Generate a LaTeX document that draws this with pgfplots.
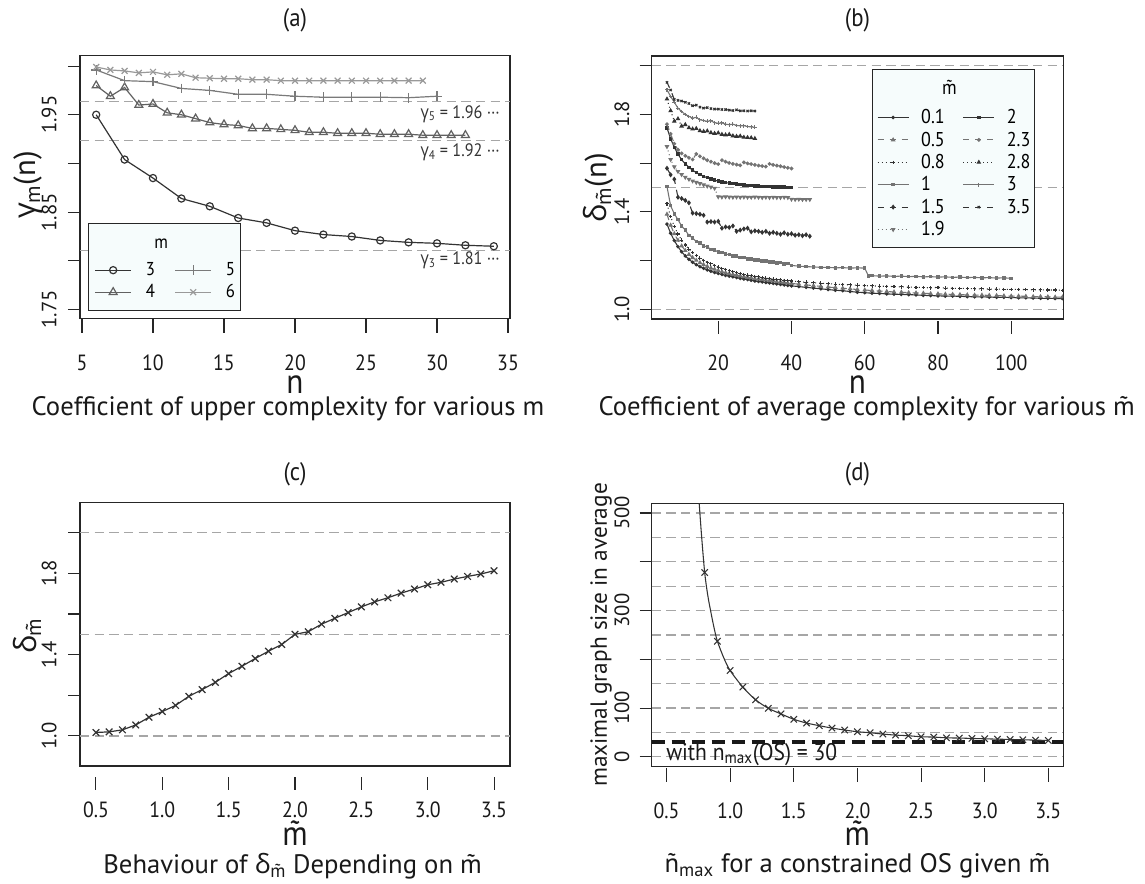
\documentclass[border=0pt]{standalone}
\usepackage{pgfplots}
\pgfplotsset{compat=1.18}
\usepackage{fontspec}
\setmainfont{PT Sans}[FakeStretch=0.9]
\newfontfamily\grk{Open Sans}[FakeStretch=0.9]
\newfontfamily\rotf{PT Sans}
\newfontfamily\rotgrk{Open Sans}
\definecolor{legfill}{RGB}{246,252,252}
\colorlet{dk}{black!80}
\colorlet{gr}{black!55}
\newcommand\mt{{\ooalign{m\cr\hidewidth\char"02DC\hidewidth\cr}}}
\newcommand\ftick{\fontsize{16.5}{16.5}\selectfont}
\newcommand\frot{\rotf\fontsize{15.5}{15.5}\selectfont}
\newcommand\ftitle{\fontsize{19}{19}\selectfont}
\newcommand\fxlab{\fontsize{26}{26}\selectfont}
\newcommand\fcap{\rotf\fontsize{20}{20}\selectfont}
\newcommand\fylab{\rotf\fontsize{23}{23}\selectfont}
\newcommand\fylabd{\rotf\fontsize{17.5}{17.5}\selectfont}
\newcommand\flega{\fontsize{14}{14}\selectfont}
\newcommand\flegb{\fontsize{15}{15}\selectfont}
\newcommand\fann{\fontsize{13.5}{13.5}\selectfont}

\pgfplotsset{
  /pgf/number format/assume math mode=true,
  panel/.style={scale only axis, anchor=south west,
    axis line style={line width=0.8pt, black!85},
    xtick=\empty, ytick pos=left, tick align=outside, major tick length=9pt,
    ytick style={line width=0.8pt, black!85},
    yticklabel style={rotate=90, anchor=south, inner sep=0pt, font=\frot, black!90},
    yticklabel shift=8.25pt, clip marker paths=true},
  tickrow/.style={scale only axis, anchor=south west, height=1pt, ymin=0, ymax=1,
    axis x line*=bottom, axis y line=none, x axis line style={draw=none},
    tick align=outside, major tick length=10pt,
    xtick style={line width=0.8pt, black!85},
    xticklabel style={anchor=north, inner sep=0pt, font=\ftick, black!90}},
  gline/.style={black!35, line width=0.9pt, dash pattern=on 7pt off 4pt, forget plot},
  % panel (a)
  ma3/.style={color=black!80, line width=0.9pt, mark=o, mark size=2.7pt, mark options={solid}},
  ma4/.style={color=black!62, line width=0.9pt, mark=triangle, mark size=3.4pt, mark options={solid}},
  ma5/.style={color=black!52, line width=0.9pt, mark=+, mark size=3.6pt, mark options={solid}},
  ma6/.style={color=black!40, line width=0.9pt, mark=x, mark size=3.1pt, mark options={solid}},
  % panel (b)
  bdash/.style={dash pattern=on 4.5pt off 4.5pt},
  bdot/.style={dash pattern=on 0.75pt off 2.25pt},
  s01/.style={dk, line width=0.8pt, solid, mark=*, mark size=0.9pt, mark options={solid}},
  s05/.style={gr, line width=0.8pt, bdash, mark=triangle*, mark size=1.3pt, mark options={solid}},
  s08/.style={dk, line width=0.8pt, bdot, mark=+, mark size=1.3pt, mark options={solid}},
  s1/.style={gr, line width=0.8pt, solid, mark=square*, mark size=0.9pt, mark options={solid}},
  s15/.style={dk, line width=0.8pt, bdash, mark=diamond*, mark size=1.3pt, mark options={solid}},
  s19/.style={gr, line width=0.8pt, bdot, mark=triangle*, mark size=1.3pt, mark options={solid, rotate=180}},
  s2/.style={dk, line width=0.8pt, solid, mark=square*, mark size=0.9pt, mark options={solid}},
  s23/.style={gr, line width=0.8pt, bdash, mark=*, mark size=1pt, mark options={solid}},
  s28/.style={dk, line width=0.8pt, bdot, mark=triangle*, mark size=1.3pt, mark options={solid}},
  s3/.style={gr, line width=0.8pt, solid, mark=+, mark size=1.4pt, mark options={solid}},
  s35/.style={dk, line width=0.8pt, bdash, mark=x, mark size=1.2pt, mark options={solid}},
}

\begin{document}
\begin{tikzpicture}
\useasboundingbox (0,0) rectangle (858.75pt,662.25pt);

% ---------------- (a)
\begin{axis}[panel, at={(60pt,423.5pt)}, width=322.5pt, height=197.25pt,
  xmin=4.86, xmax=35.14, ymin=1.741, ymax=2.011,
  ytick={1.75,1.80,1.85,1.90,1.95,2.00}, yticklabels={1.75,,1.85,,1.95,},
  legend image code/.code={\draw[mark repeat=2,mark phase=2,#1] plot coordinates {(0pt,0pt) (13.5pt,0pt) (27pt,0pt)};},
  legend columns=2,
  legend style={at={(0.0193,0.029)}, anchor=south west, draw=black!85, line width=0.8pt,
    fill=legfill, font=\flega, inner xsep=4.3pt, inner ysep=5.25pt, row sep=0pt,
    column sep=10.5pt, nodes={inner sep=0pt, minimum height=16.5pt}, cells={anchor=west},
    /tikz/every even column/.append style={column sep=5pt}}]
\addplot[gline] coordinates {(4.86,1.8105) (35.14,1.8105)};
\addplot[gline] coordinates {(4.86,1.9236) (35.14,1.9236)};
\addplot[gline] coordinates {(4.86,1.9635) (35.14,1.9635)};
\addplot[ma3, forget plot] coordinates {(6,1.950)(8,1.904)(10,1.885)(12,1.864)(14,1.856)(16,1.844)(18,1.839)(20,1.831)(22,1.827)(24,1.825)(26,1.821)(28,1.819)(30,1.818)(32,1.816)(34,1.815)};
\addplot[ma4, forget plot] coordinates {(6,1.980)(7,1.969)(8,1.978)(9,1.960)(10,1.961)(11,1.952)(12,1.950)(13,1.946)(14,1.942)(15,1.940)(16,1.939)(17,1.936)(18,1.936)(19,1.935)(20,1.934)(21,1.932)(22,1.932)(23,1.931)(24,1.931)(25,1.931)(26,1.930)(27,1.930)(28,1.930)(29,1.929)(30,1.929)(31,1.929)(32,1.929)};
\addplot[ma5, forget plot] coordinates {(6,1.996)(8,1.985)(10,1.984)(12,1.977)(14,1.975)(16,1.971)(18,1.971)(20,1.969)(22,1.968)(24,1.968)(26,1.968)(28,1.9675)(30,1.969)};
\addplot[ma6, forget plot] coordinates {(6,1.999)(7,1.996)(8,1.995)(9,1.993)(10,1.994)(11,1.991)(12,1.992)(13,1.988)(14,1.9875)(15,1.987)(16,1.987)(17,1.986)(18,1.986)(19,1.985)(20,1.985)(21,1.985)(22,1.985)(23,1.985)(24,1.985)(25,1.985)(26,1.985)(27,1.985)(28,1.985)(29,1.985)};
\node[anchor=east, font=\fann, black!80] at (axis cs:34.75,1.951) {{\grk γ}\textsubscript{5} = 1.96 ···};
\node[anchor=east, font=\fann, black!80] at (axis cs:34.75,1.911) {{\grk γ}\textsubscript{4} = 1.92 ···};
\node[anchor=east, font=\fann, black!80] at (axis cs:34.75,1.801) {{\grk γ}\textsubscript{3} = 1.81 ···};
\addlegendimage{empty legend}\addlegendentry[minimum height=21.75pt, xshift=6.4pt]{m}
\addlegendimage{empty legend}\addlegendentry{}
\addlegendimage{ma3}\addlegendentry{3}
\addlegendimage{ma5}\addlegendentry{5}
\addlegendimage{ma4}\addlegendentry{4}
\addlegendimage{ma6}\addlegendentry{6}
\end{axis}
\begin{axis}[tickrow, at={(60pt,422.75pt)}, width=322.5pt, xmin=4.86, xmax=35.14,
  xtick={5,10,15,20,25,30,35}, xticklabels={5,10,15,20,25,30,35}, xticklabel shift=16.3pt]
\end{axis}

% ---------------- (b)
\begin{axis}[panel, at={(488.8pt,423pt)}, width=308.5pt, height=197.25pt,
  xmin=1.84, xmax=114.16, ymin=0.96, ymax=2.04,
  ytick={1.0,1.2,1.4,1.6,1.8,2.0}, yticklabels={1.0,,1.4,,1.8,}, yticklabel shift=7.5pt,
  legend image code/.code={\draw[mark repeat=2,mark phase=2,#1] plot coordinates {(0pt,0pt) (11.6pt,0pt) (23.25pt,0pt)};},
  legend columns=2,
  legend style={at={(0.536,0.269)}, anchor=south west, draw=black!85, line width=0.8pt,
    fill=legfill, font=\flegb, inner xsep=3.3pt, inner ysep=5.25pt, row sep=0pt,
    column sep=9pt, nodes={inner sep=0pt, minimum height=16.8pt}, cells={anchor=west},
    /tikz/every even column/.append style={column sep=4.5pt}}]
\addplot[gline] coordinates {(1.84,1.0) (114.16,1.0)};
\addplot[gline] coordinates {(1.84,1.5) (114.16,1.5)};
\addplot[gline] coordinates {(1.84,2.0) (114.16,2.0)};
% m~ = 0.1
\addplot[s01, forget plot] coordinates {(6,1.350)(7,1.312)(8,1.282)(9,1.257)(10,1.236)(11,1.219)(12,1.205)(13,1.193)(14,1.183)(15,1.175)(16,1.168)(17,1.162)(18,1.156)(19,1.151)(20,1.147)(21,1.143)(22,1.139)(23,1.136)(24,1.133)(25,1.130)(26,1.127)(27,1.124)(28,1.122)(29,1.119)(30,1.116)(31,1.114)(32,1.112)(33,1.110)(34,1.108)(35,1.106)(36,1.104)(37,1.102)(38,1.100)(39,1.098)(40,1.096)(42,1.093)(44,1.090)(46,1.087)(48,1.084)(50,1.081)(52,1.078)(54,1.076)(56,1.073)(58,1.070)(60,1.068)(62,1.066)(64,1.065)(66,1.063)(68,1.062)(70,1.061)(72,1.060)(74,1.059)(76,1.057)(78,1.056)(80,1.055)(82,1.054)(84,1.054)(86,1.053)(88,1.052)(90,1.051)(92,1.051)(94,1.050)(96,1.049)(98,1.049)(100,1.048)(102,1.047)(104,1.047)(106,1.046)(108,1.045)(110,1.045)(112,1.044)(114,1.044)};
% m~ = 0.5
\addplot[s05, forget plot] coordinates {(6,1.390)(7,1.345)(8,1.310)(9,1.283)(10,1.260)(11,1.241)(12,1.225)(13,1.212)(14,1.201)(15,1.191)(16,1.183)(17,1.176)(18,1.169)(19,1.164)(20,1.159)(21,1.154)(22,1.150)(23,1.146)(24,1.143)(25,1.140)(26,1.137)(27,1.134)(28,1.131)(29,1.129)(30,1.126)(31,1.124)(32,1.122)(33,1.120)(34,1.118)(35,1.116)(36,1.114)(37,1.112)(38,1.110)(39,1.108)(40,1.106)(42,1.103)(44,1.100)(46,1.097)(48,1.094)(50,1.091)(52,1.089)(54,1.086)(56,1.084)(58,1.081)(60,1.079)(62,1.077)(64,1.075)(66,1.073)(68,1.071)(70,1.070)(72,1.068)(74,1.067)(76,1.066)(78,1.064)(80,1.063)(82,1.062)(84,1.061)(86,1.060)(88,1.059)(90,1.058)(92,1.058)(94,1.057)(96,1.056)(98,1.055)(100,1.054)(102,1.054)(104,1.053)(106,1.052)(108,1.052)(110,1.051)(112,1.050)(114,1.050)};
% m~ = 0.8
\addplot[s08, forget plot] coordinates {(6,1.433)(7,1.380)(8,1.340)(9,1.309)(10,1.284)(11,1.264)(12,1.247)(13,1.233)(14,1.221)(15,1.210)(16,1.201)(17,1.193)(18,1.186)(19,1.179)(20,1.173)(21,1.168)(22,1.163)(23,1.158)(24,1.154)(25,1.150)(26,1.147)(27,1.143)(28,1.140)(29,1.138)(30,1.135)(31,1.133)(32,1.130)(33,1.128)(34,1.126)(35,1.124)(36,1.122)(37,1.121)(38,1.119)(39,1.117)(40,1.116)(42,1.113)(44,1.111)(46,1.109)(48,1.107)(50,1.105)(52,1.103)(54,1.102)(56,1.100)(58,1.099)(60,1.097)(62,1.096)(64,1.095)(66,1.094)(68,1.093)(70,1.092)(72,1.091)(74,1.090)(76,1.089)(78,1.088)(80,1.090)(82,1.087)(84,1.086)(86,1.086)(88,1.085)(90,1.084)(92,1.084)(94,1.083)(96,1.083)(98,1.082)(100,1.082)(102,1.081)(104,1.081)(106,1.080)(108,1.080)(110,1.079)(112,1.079)(114,1.078)};
% m~ = 1
\addplot[s1, forget plot] coordinates {(6,1.504)(7,1.425)(8,1.392)(9,1.368)(10,1.342)(11,1.325)(12,1.303)(13,1.293)(14,1.278)(15,1.272)(16,1.260)(17,1.256)(18,1.246)(19,1.243)(20,1.235)(21,1.233)(22,1.226)(23,1.225)(24,1.219)(25,1.218)(26,1.212)(27,1.212)(28,1.207)(29,1.207)(30,1.202)(31,1.203)(32,1.198)(33,1.199)(34,1.194)(35,1.195)(36,1.190)(37,1.192)(38,1.186)(39,1.188)(40,1.180)(42,1.177)(44,1.175)(46,1.174)(48,1.172)(50,1.172)(52,1.170)(54,1.171)(56,1.169)(58,1.170)(60,1.169)(61,1.137)(62,1.138)(64,1.136)(66,1.137)(68,1.135)(70,1.136)(72,1.134)(74,1.135)(76,1.133)(78,1.134)(80,1.132)(82,1.133)(84,1.131)(86,1.132)(88,1.130)(90,1.131)(92,1.129)(94,1.130)(96,1.128)(98,1.129)(100,1.127)};
% m~ = 1.5
\addplot[s15, forget plot] coordinates {(6,1.579)(7,1.552)(8,1.534)(9,1.460)(10,1.455)(11,1.447)(12,1.437)(13,1.395)(14,1.393)(15,1.390)(16,1.386)(17,1.358)(18,1.360)(19,1.358)(20,1.361)(21,1.333)(22,1.338)(23,1.336)(24,1.342)(25,1.320)(26,1.325)(27,1.330)(28,1.333)(29,1.318)(30,1.322)(31,1.320)(32,1.316)(33,1.320)(34,1.312)(35,1.316)(36,1.312)(37,1.308)(38,1.314)(39,1.308)(40,1.310)(41,1.304)(42,1.306)(43,1.302)(44,1.306)(45,1.300)};
% m~ = 1.9
\addplot[s19, forget plot] coordinates {(6,1.668)(7,1.615)(8,1.585)(9,1.566)(10,1.553)(11,1.542)(12,1.534)(13,1.527)(14,1.521)(15,1.516)(16,1.511)(17,1.506)(18,1.502)(19,1.497)(20,1.462)(21,1.461)(22,1.462)(23,1.461)(24,1.460)(25,1.461)(26,1.460)(27,1.461)(28,1.460)(29,1.460)(30,1.461)(31,1.460)(32,1.459)(33,1.460)(34,1.459)(35,1.460)(36,1.459)(37,1.459)(38,1.460)(39,1.459)(40,1.452)(41,1.451)(42,1.452)(43,1.451)(44,1.451)(45,1.451)};
% m~ = 2
\addplot[s2, forget plot] coordinates {(6,1.745)(7,1.700)(8,1.665)(9,1.637)(10,1.614)(11,1.597)(12,1.583)(13,1.571)(14,1.561)(15,1.553)(16,1.546)(17,1.540)(18,1.535)(19,1.530)(20,1.526)(21,1.523)(22,1.520)(23,1.518)(24,1.516)(25,1.514)(26,1.512)(27,1.511)(28,1.509)(29,1.508)(30,1.507)(31,1.506)(32,1.505)(33,1.505)(34,1.504)(35,1.503)(36,1.503)(37,1.502)(38,1.502)(39,1.501)(40,1.501)};
% m~ = 2.3
\addplot[s23, forget plot] coordinates {(6,1.760)(7,1.720)(8,1.680)(9,1.655)(10,1.640)(11,1.630)(12,1.622)(13,1.615)(14,1.638)(15,1.628)(16,1.620)(17,1.612)(18,1.606)(19,1.600)(20,1.596)(21,1.612)(22,1.606)(23,1.601)(24,1.597)(25,1.594)(26,1.591)(27,1.603)(28,1.599)(29,1.596)(30,1.593)(31,1.590)(32,1.588)(33,1.586)(34,1.597)(35,1.593)(36,1.590)(37,1.587)(38,1.584)(39,1.581)(40,1.578)};
% m~ = 2.8
\addplot[s28, forget plot] coordinates {(6,1.863)(7,1.815)(8,1.772)(9,1.782)(10,1.752)(11,1.758)(12,1.745)(13,1.740)(14,1.742)(15,1.733)(16,1.730)(17,1.732)(18,1.725)(19,1.722)(20,1.724)(21,1.718)(22,1.716)(23,1.718)(24,1.712)(25,1.710)(26,1.711)(27,1.706)(28,1.705)(29,1.704)(30,1.701)};
% m~ = 3
\addplot[s3, forget plot] coordinates {(6,1.901)(7,1.874)(8,1.850)(9,1.826)(10,1.812)(11,1.800)(12,1.792)(13,1.785)(14,1.788)(15,1.778)(16,1.775)(17,1.772)(18,1.774)(19,1.766)(20,1.764)(21,1.765)(22,1.760)(23,1.758)(24,1.760)(25,1.755)(26,1.753)(27,1.754)(28,1.750)(29,1.749)(30,1.747)};
% m~ = 3.5
\addplot[s35, forget plot] coordinates {(6,1.932)(7,1.900)(8,1.862)(9,1.858)(10,1.855)(11,1.850)(12,1.845)(13,1.836)(14,1.838)(15,1.830)(16,1.826)(17,1.828)(18,1.824)(19,1.822)(20,1.822)(21,1.820)(22,1.820)(23,1.818)(24,1.816)(25,1.819)(26,1.815)(27,1.815)(28,1.814)(29,1.815)(30,1.814)};
\addlegendimage{empty legend}\addlegendentry[minimum height=20.6pt, xshift=15.75pt, yshift=3.75pt]{\mt}
\addlegendimage{empty legend}\addlegendentry{}
\addlegendimage{s01}\addlegendentry{0.1}
\addlegendimage{s2}\addlegendentry{2}
\addlegendimage{s05}\addlegendentry{0.5}
\addlegendimage{s23}\addlegendentry{2.3}
\addlegendimage{s08}\addlegendentry{0.8}
\addlegendimage{s28}\addlegendentry{2.8}
\addlegendimage{s1}\addlegendentry{1}
\addlegendimage{s3}\addlegendentry{3}
\addlegendimage{s15}\addlegendentry{1.5}
\addlegendimage{s35}\addlegendentry{3.5}
\addlegendimage{s19}\addlegendentry{1.9}
\end{axis}
\begin{axis}[tickrow, at={(488.8pt,421.75pt)}, width=308.5pt, xmin=1.84, xmax=114.16,
  xtick={20,40,60,80,100}, xticklabels={20,40,60,80,100}, xticklabel shift=15.75pt]
\end{axis}

% ---------------- (c)
\begin{axis}[panel, at={(60pt,87.75pt)}, width=322.5pt, height=197.5pt,
  xmin=0.38, xmax=3.62, ymin=0.852, ymax=2.148,
  ytick={1.0,1.2,1.4,1.6,1.8,2.0}, yticklabels={1.0,,1.4,,1.8,}]
\addplot[gline] coordinates {(0.38,1.0) (3.62,1.0)};
\addplot[gline] coordinates {(0.38,1.5) (3.62,1.5)};
\addplot[gline] coordinates {(0.38,2.0) (3.62,2.0)};
\addplot[dk, line width=0.9pt, mark=x, mark size=3.5pt] coordinates {(0.5,1.017)(0.6,1.020)(0.7,1.030)(0.8,1.054)(0.9,1.092)(1.0,1.120)(1.1,1.150)(1.2,1.195)(1.3,1.228)(1.4,1.264)(1.5,1.307)(1.6,1.343)(1.7,1.381)(1.8,1.417)(1.9,1.450)(2.0,1.500)(2.1,1.513)(2.2,1.550)(2.3,1.579)(2.4,1.607)(2.5,1.635)(2.6,1.660)(2.7,1.680)(2.8,1.703)(2.9,1.723)(3.0,1.744)(3.1,1.756)(3.2,1.772)(3.3,1.785)(3.4,1.797)(3.5,1.813)};
\end{axis}
\begin{axis}[tickrow, at={(60pt,79.75pt)}, width=322.5pt, xmin=0.38, xmax=3.62,
  xtick={0.5,1,1.5,2,2.5,3,3.5}, xticklabels={0.5,1.0,1.5,2.0,2.5,3.0,3.5}, xticklabel shift=9pt]
\end{axis}

% ---------------- (d)
\begin{axis}[panel, at={(488.8pt,87.3pt)}, width=308.5pt, height=197.5pt,
  xmin=0.384, xmax=3.616, ymin=-20, ymax=520,
  ytick={0,100,200,300,400,500}, yticklabels={0,100,,300,,500}, yticklabel shift=7.5pt]
\pgfplotsinvokeforeach{0,50,...,500}{\addplot[gline] coordinates {(0.384,#1) (3.616,#1)};}
\addplot[black!90, line width=3pt, dash pattern=on 9.75pt off 5.25pt] coordinates {(0.384,30) (3.616,30)};
\addplot[dk, line width=0.8pt, smooth, tension=0.5] coordinates {(0.75,545)(0.775,455)(0.8,378)(0.825,330)(0.85,295)(0.875,263)(0.9,237)(0.95,203)(1.0,177)(1.1,143)(1.2,117)(1.3,99.6)(1.4,88)(1.5,77)(1.6,69.4)(1.7,63.9)(1.8,59)(1.9,55)(2.0,51.5)(2.1,49.5)(2.2,46.7)(2.3,44.6)(2.4,43.3)(2.5,41.2)(2.6,40.5)(2.7,39)(2.8,38.5)(2.9,37.8)(3.0,37)(3.1,36.3)(3.2,35.7)(3.3,35)(3.4,34.3)(3.5,33.6)};
\addplot[dk, only marks, line width=0.8pt, mark=x, mark size=3.4pt] coordinates {(0.8,378)(0.9,237)(1.0,177)(1.1,143)(1.2,117)(1.3,99.6)(1.4,88)(1.5,77)(1.6,69.4)(1.7,63.9)(1.8,59)(1.9,55)(2.0,51.5)(2.1,49.5)(2.2,46.7)(2.3,44.6)(2.4,43.3)(2.5,41.2)(2.6,40.5)(2.7,39)(2.8,38.5)(2.9,37.8)(3.0,37)(3.1,36.3)(3.2,35.7)(3.3,35)(3.4,34.3)(3.5,33.6)};
\node[anchor=base west, font=\fontsize{18}{18}\selectfont, black!90, inner sep=0pt] at (axis cs:0.496,-6.8) {with n\textsubscript{max}(OS) = 30};
\end{axis}
\begin{axis}[tickrow, at={(488.8pt,86.05pt)}, width=308.5pt, xmin=0.384, xmax=3.616,
  xtick={0.5,1,1.5,2,2.5,3,3.5}, xticklabels={0.5,1.0,1.5,2.0,2.5,3.0,3.5}, xticklabel shift=15.75pt]
\end{axis}

% ---------------- titles and labels
\begin{scope}[every node/.style={black!90, inner sep=0pt}]
\node[font=\ftitle] at (221.25pt,647.25pt) {(a)};
\node[font=\ftitle] at (643.05pt,647.25pt) {(b)};
\node[font=\ftitle] at (221.25pt,306.75pt) {(c)};
\node[font=\ftitle] at (643.05pt,306.75pt) {(d)};
\node[font=\fxlab, anchor=base] at (221.25pt,366.75pt) {n};
\node[font=\fxlab, anchor=base] at (643.05pt,366.75pt) {n};
\node[font=\fxlab, anchor=base] at (221.25pt,28.5pt) {\mt};
\node[font=\fxlab, anchor=base] at (643.05pt,28.5pt) {\mt};
\node[font=\fcap, anchor=base] at (216pt,351pt) {Coefficient of upper complexity for various m};
\node[font=\fcap, anchor=base] at (650pt,351pt) {Coefficient of average complexity for various \mt};
\node[font=\fcap, anchor=base] at (219.5pt,7.5pt) {Behaviour of {\rotgrk δ}\textsubscript{\mt} Depending on \mt};
\node[font=\fcap, anchor=base] at (643.05pt,8.25pt) {ñ\textsubscript{max} for a constrained OS given \mt};
\node[rotate=90, font=\fylab] at (21pt,523.5pt) {{\rotgrk γ}\textsubscript{m}(n)};
\node[rotate=90, font=\fylab] at (448.5pt,521.25pt) {{\rotgrk δ}\textsubscript{\mt}(n)};
\node[rotate=90, font=\fylab] at (20.25pt,185.25pt) {{\rotgrk δ}\textsubscript{\mt}};
\node[rotate=90, font=\fylabd] at (450.75pt,186pt) {maximal graph size in average};
\end{scope}
\end{tikzpicture}
\end{document}
